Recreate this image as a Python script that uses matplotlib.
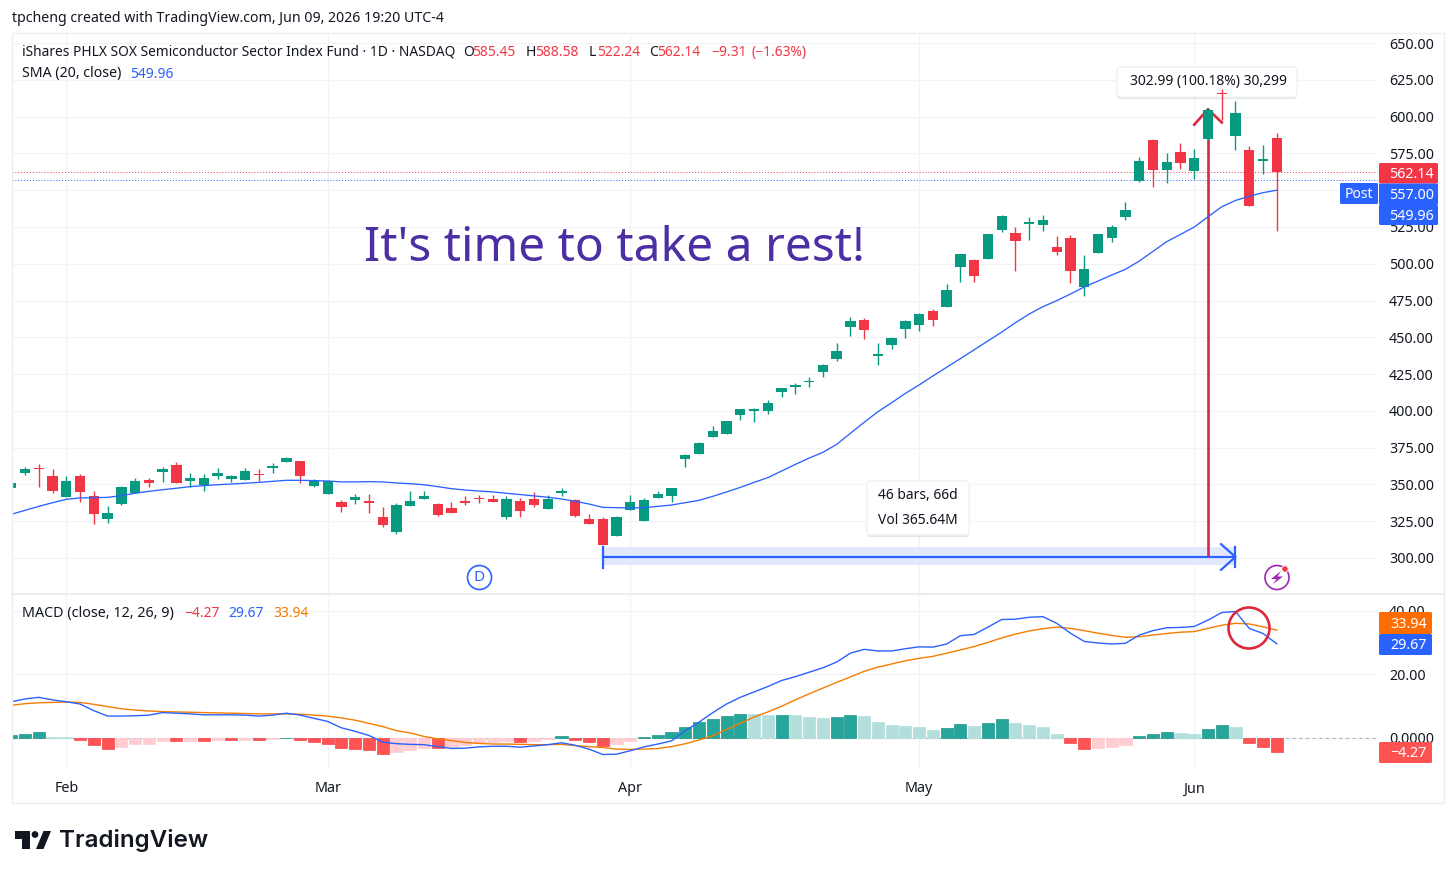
#!/usr/bin/env python3
"""SOXX daily candles with SMA 20 and MACD, TradingView snapshot layout."""

import numpy as np
import matplotlib
matplotlib.use("Agg")
import matplotlib.pyplot as plt
import matplotlib.patheffects as pe
from matplotlib.patches import Rectangle, FancyBboxPatch, Circle, Polygon

plt.rcParams["font.family"] = ["Noto Sans", "DejaVu Sans"]

# ---------- Data ----------
opens = [347.8,
         358.0, 361.2, 355.7, 341.7, 355.7, 342.1, 326.3, 336.9, 344.4, 353.0,
         358.2, 363.0, 352.3, 349.6, 355.5, 353.9, 353.0, 357.3, 361.2, 365.4,
         366.1, 348.9, 343.5, 337.9, 339.6, 338.5, 328.1, 317.9, 335.5, 340.1,
         336.9, 333.8, 338.7, 340.6, 340.3, 328.1, 338.9, 339.9, 333.5, 344.2,
         339.4, 326.3, 326.3, 315.2, 332.8, 324.9, 340.8, 342.1, 367.5, 370.9,
         382.0, 384.1, 397.4, 399.7, 400.1, 413.0, 416.4, 419.6, 426.6, 435.0,
         457.2, 461.5, 437.1, 445.0, 455.4, 458.3, 467.7, 470.8, 497.6, 502.5,
         503.4, 522.9, 520.9, 527.2, 526.1, 511.4, 517.5, 484.2, 507.5, 517.7,
         531.5, 556.4, 584.1, 563.7, 575.9, 563.2, 584.5, 616.2, 586.8, 577.5,
         569.6, 585.45]
highs = [351.0,
         362.0, 363.7, 360.3, 355.7, 356.9, 345.3, 335.3, 348.9, 354.6, 354.6,
         361.6, 365.0, 357.6, 357.1, 361.4, 356.4, 361.4, 360.3, 364.8, 368.4,
         366.1, 353.5, 353.0, 339.2, 343.7, 343.5, 334.9, 337.2, 345.3, 345.3,
         337.6, 338.1, 342.1, 343.0, 342.8, 342.1, 340.6, 344.9, 342.8, 347.6,
         339.8, 329.7, 327.7, 328.6, 342.6, 340.6, 345.7, 347.6, 370.7, 379.0,
         389.7, 393.4, 401.3, 401.7, 407.2, 415.5, 418.9, 423.0, 431.8, 446.3,
         463.6, 462.9, 445.9, 450.0, 461.7, 466.3, 469.0, 486.2, 506.8, 503.2,
         520.5, 533.3, 524.7, 531.5, 533.1, 518.6, 519.7, 505.9, 520.5, 526.3,
         541.9, 572.7, 584.5, 575.4, 582.2, 577.8, 605.8, 618.5, 610.8, 580.2,
         580.9, 588.58]
lows = [347.5,
        356.6, 348.0, 344.0, 341.7, 338.3, 323.3, 324.0, 336.2, 344.0, 348.5,
        351.6, 351.2, 348.5, 345.5, 353.9, 351.9, 353.0, 352.5, 358.0, 365.4,
        350.8, 348.5, 343.5, 331.5, 336.9, 330.8, 321.3, 316.3, 335.5, 340.1,
        328.5, 330.4, 336.2, 337.4, 338.1, 326.7, 327.7, 334.9, 333.5, 342.1,
        328.2, 322.9, 309.0, 315.2, 332.6, 324.9, 340.8, 338.3, 362.0, 370.9,
        382.0, 384.1, 393.6, 392.4, 397.9, 409.2, 411.7, 416.4, 422.8, 433.7,
        450.9, 448.6, 431.4, 442.2, 449.3, 454.5, 457.7, 470.8, 487.8, 487.8,
        503.0, 521.8, 495.2, 516.1, 522.0, 506.1, 486.7, 478.1, 507.0, 514.8,
        529.7, 555.3, 551.9, 554.6, 564.6, 557.4, 584.0, 597.7, 577.3, 539.4,
        561.0, 522.24]
closes = [350.8,
          360.3, 360.3, 345.5, 352.3, 345.1, 330.1, 330.4, 348.0, 352.1, 351.2,
          360.3, 351.2, 354.6, 354.2, 357.6, 355.7, 358.9, 356.2, 361.6, 367.8,
          355.9, 352.3, 352.3, 334.5, 341.3, 337.4, 322.6, 335.8, 338.5, 342.1,
          329.4, 330.8, 337.4, 339.9, 338.1, 339.9, 331.7, 336.0, 340.3, 345.3,
          328.5, 322.9, 309.0, 328.1, 337.9, 339.2, 343.5, 347.6, 370.0, 378.4,
          386.1, 393.1, 401.1, 401.5, 405.3, 415.3, 417.1, 420.3, 431.2, 440.5,
          460.9, 454.9, 438.4, 449.3, 460.9, 465.6, 461.5, 482.1, 506.6, 491.9,
          520.2, 532.4, 515.6, 528.1, 529.5, 507.8, 495.2, 496.4, 520.2, 524.7,
          536.7, 569.8, 563.7, 569.3, 568.6, 571.6, 604.5, 615.3, 602.2, 539.4,
          571.0, 562.14]
sma20 = [329.7, 332.4, 335.1, 337.6, 339.9, 340.8, 341.0, 341.2, 342.4, 344.0,
         345.3, 346.4, 347.4, 348.5, 349.2, 349.8, 350.3, 350.8, 351.4, 352.1,
         352.8, 352.8, 352.6, 352.3, 351.7, 351.7, 351.9, 351.7, 351.0, 350.5,
         349.8, 348.5, 347.1, 346.2, 345.5,
         344.9, 344.0, 343.1, 342.2, 341.3, 340.1, 338.5, 336.7, 334.4, 334.2,
         334.0, 334.2, 335.1, 336.0, 337.6, 339.2, 341.9, 344.9, 348.0, 351.4,
         354.6, 359.1, 363.6, 367.9, 371.8, 377.2, 384.7, 392.2, 399.4, 405.5,
         411.9, 417.6, 423.7, 429.6,
         435.5, 441.5, 447.5, 453.5, 459.9, 465.8, 470.8, 474.9, 479.4, 484.2,
         488.2, 492.3, 496.2, 501.8, 508.4, 515.0, 519.9, 524.9, 531.9, 538.7,
         543.0, 545.8, 548.3, 549.96]
macd_line = [11.4, 12.3, 12.8, 12.0, 11.4, 10.7, 8.6, 6.9, 6.9, 7.0, 7.2, 8.0,
             7.8, 7.6, 7.3, 7.3, 7.3, 7.2, 6.9, 7.2, 7.8, 7.2, 6.2, 5.2, 3.2,
             2.1, 0.8, -1.3, -1.8, -2.0, -2.1, -2.7, -3.3, -3.2, -2.8, -2.6,
             -2.6, -2.9, -2.5, -2.1, -1.5, -2.3, -3.5, -5.2, -5.1, -4.0, -2.8,
             -1.9, -0.9, 2.3, 5.0, 8.0, 10.7, 12.8, 14.5, 16.2, 18.1, 19.3, 20.7,
             22.1, 23.9, 26.7, 27.9, 27.4, 27.4, 28.1, 28.7, 28.6, 29.6, 32.2,
             32.6, 34.9, 37.3, 37.4, 38.0, 38.2, 36.1,
             33.0, 30.4, 29.9, 29.6, 29.8, 32.4, 33.8, 34.7, 34.8, 35.1, 37.1,
             39.5, 39.8, 34.5, 32.9, 29.67]
signal_line = [10.3, 10.8, 11.1, 11.2, 11.3, 11.2, 10.6, 9.9, 9.2, 8.8, 8.5, 8.3,
               8.2, 8.1, 8.0, 7.9, 7.8, 7.7, 7.6, 7.6, 7.6, 7.5, 7.2, 6.9, 6.3,
               5.6, 4.6, 3.6, 2.3, 1.6, 0.5, -0.3, -0.8, -1.4, -1.7, -1.9,
               -1.9, -2.0, -2.1, -2.1, -2.0, -2.4, -2.7, -3.0, -3.5, -3.6, -3.5,
               -3.3, -2.7, -1.8, -0.6, 0.7, 2.7, 4.6, 6.6, 8.2, 10.0, 12.0, 13.9,
               15.7, 17.5, 19.2, 21.0, 22.3, 23.3, 24.3, 25.1, 25.7, 26.7, 27.7,
               28.8, 30.1, 31.5, 32.7, 33.7, 34.4, 34.9,
               34.5, 33.8, 33.0, 32.3, 31.7, 31.9, 32.4, 32.9, 33.3, 33.5, 34.5,
               35.5, 36.1, 35.9, 35.0, 33.94]
macd_hist = [0.8, 1.4, 1.8, 0.3, 0.2, -0.7, -2.2, -3.4, -2.7, -2.0, -1.8, -0.9,
             -1.0, -0.8, -0.9, -0.6, -0.7, -0.6, -0.7, -0.4, 0.1, -0.7, -1.2,
             -1.8, -3.0, -3.6, -3.8, -4.9, -4.3, -3.8, -3.0, -3.1, -2.9, -2.2,
             -1.6, -1.3,
             -1.1, -1.2, -0.8, -0.4, 0.5, -0.6, -1.2, -2.5, -2.0, -0.9, 0.3, 0.95,
             1.8, 3.5, 5.0, 6.1, 7.0, 7.6, 7.5, 7.3, 7.35, 7.1, 6.6,
             6.3, 6.6, 7.3, 6.9, 5.1, 4.2, 3.9, 3.6, 2.6, 3.1, 4.4, 3.9, 4.8, 5.9,
             4.6, 4.2, 3.6, 1.4,
             -1.7, -3.4, -3.1, -2.9, -2.1, 0.7, 1.4, 1.9, 1.6, 1.4, 2.8, 4.2, 3.6,
             -1.7, -2.9, -4.27]

price_ticks = [300, 325, 350, 375, 400, 425, 450, 475, 500, 525, 550, 575, 600, 625, 650]
macd_ticks = [0, 20, 40]
macd_tick_labels = ["0.0000", "20.00", "40.00"]
month_bars = [4, 23, 45, 66, 86]
month_labels = ["Feb", "Mar", "Apr", "May", "Jun"]
last_close = 562.14
post_price = 557.00
range_start = 43
range_end = 89

UP = "#089981"
DOWN = "#f23645"
BLUE = "#2962ff"
ORANGE = "#f57c00"
GRID = "#f2f3f6"
FRAME = "#eceef2"
TEXT = "#131722"
W, H = 1456, 877


def frac_box(left, top, right, bottom):
    return [left / W, 1 - bottom / H, (right - left) / W, (bottom - top) / H]


# ---------- Figure ----------
fig = plt.figure(figsize=(W / 100, H / 100), dpi=100, facecolor="white")
ax = fig.add_axes(frac_box(12, 33, 1378, 594))
ax_macd = fig.add_axes(frac_box(12, 596, 1378, 769))
over = fig.add_axes([0, 0, 1, 1], zorder=10)
over.set_xlim(0, W)
over.set_ylim(H, 0)
over.axis("off")
over.patch.set_alpha(0)

xs = np.arange(len(closes))
xlim = (0.05, 99.36)

for a in (ax, ax_macd):
    a.set_xlim(*xlim)
    for s in a.spines.values():
        s.set_visible(False)
    a.grid(True, color=GRID, lw=0.9)
    a.set_axisbelow(True)
    a.set_xticks(month_bars)
    a.yaxis.tick_right()
    a.tick_params(length=0, labelsize=10.3, labelcolor=TEXT)

# ---------- Price pane ----------
ax.set_ylim(275.53, 656.8)
ax.set_yticks(price_ticks)
ax.set_yticklabels([f"{v:.2f}" for v in price_ticks])
ax.tick_params(axis="y", pad=8)
ax.tick_params(axis="x", labelbottom=False)

ax.axhline(last_close, color=DOWN, lw=0.7, ls=(0, (1, 2)), zorder=1)
ax.axhline(post_price, color=BLUE, lw=0.7, ls=(0, (1, 2)), zorder=1)

# range tool
ax.fill_between([range_start, range_end], 295.2, 307.5, color="#e2e9fd", lw=0, zorder=1.2)
ax.plot([range_start, range_end], [300.7, 300.7], color=BLUE, lw=1.6, zorder=1.4)
ax.plot([range_start, range_start], [293.5, 307.5], color=BLUE, lw=1.6, zorder=1.4)
ax.plot([range_end, range_end], [294, 307.5], color=BLUE, lw=1.6, zorder=1.4)
ax.plot([range_end - 1.05, range_end, range_end - 1.05], [309.4, 300.7, 292],
        color=BLUE, lw=1.6, zorder=1.4)

# measured move arrow
ax.plot([range_start + 44, range_start + 44], [301.8, 604], color="#d9283f", lw=1.9, zorder=1.6)
ax.plot([range_start + 43, range_start + 44, range_start + 45], [594.5, 605, 596],
        color="#d9283f", lw=1.9, zorder=1.6)


def tooltip(left, top, right, bottom):
    # boxes sit under the candles, as the doji pokes over the measure label
    p = FancyBboxPatch((left + 3, top + 3), right - left - 6, bottom - top - 6,
                       boxstyle="round,pad=3,rounding_size=4", fc="white", ec="#eff0f3", lw=0.8,
                       transform=over.transData, zorder=1.8, clip_on=False)
    p.set_path_effects([pe.withSimplePatchShadow(offset=(0, -1.5), alpha=0.10, shadow_rgbFace="k"),
                        pe.Normal()])
    ax.add_patch(p)


tooltip(1117, 67, 1297, 97)
tooltip(867, 481, 969, 535)

colors = [UP if c >= o else DOWN for o, c in zip(opens, closes)]
ax.vlines(xs, lows, highs, colors=colors, lw=1.0, zorder=2)
body_low = np.minimum(opens, closes)
body_h = np.maximum(np.abs(np.array(closes) - np.array(opens)), 1.0)
ax.bar(xs, body_h, bottom=body_low, width=0.75, color=colors, lw=0, zorder=2.5)
ax.plot(xs, sma20, color=BLUE, lw=0.95, zorder=3)

# ---------- MACD pane ----------
ax_macd.set_ylim(-9.76, 44.7)
ax_macd.set_yticks(macd_ticks)
ax_macd.set_yticklabels(macd_tick_labels)
ax_macd.tick_params(axis="y", pad=8)
ax_macd.set_xticklabels(month_labels)
ax_macd.tick_params(axis="x", pad=9)
ax_macd.axhline(0, color="#b2b5be", lw=0.8, ls=(0, (3, 3)), zorder=1)

hist_colors = []
hist_edges = []
prev = 0.0
for v in macd_hist:
    if v >= 0:
        hist_colors.append("#26a69a" if v > prev else "#b2dfdb")
        hist_edges.append("#1f9588" if v > prev else "#b2dfdb")
    else:
        hist_colors.append("#ff5252" if v < prev else "#ffcdd2")
        hist_edges.append("#f4464c" if v < prev else "#ffcdd2")
    prev = v
ax_macd.bar(xs, macd_hist, width=0.88, color=hist_colors, edgecolor=hist_edges, lw=0.5, zorder=2)
ax_macd.plot(xs, signal_line, color=ORANGE, lw=1.0, zorder=3)
ax_macd.plot(xs, macd_line, color=BLUE, lw=1.0, zorder=3.2)

# ---------- Frame ----------
over.add_patch(Rectangle((12, 33), 1432, 770, fill=False, ec=FRAME, lw=1.0))
over.plot([12, 1444], [594, 594], color=FRAME, lw=1.6)


def label(x, y, s, color=TEXT, size=10.0, ha="left", **kw):
    over.text(x, y + 1, s, color=color, fontsize=size, ha=ha, va="center", **kw)


def price_box(left, top, right, bottom, s, face):
    over.add_patch(FancyBboxPatch((left + 1, top + 1), right - left - 2, bottom - top - 2,
                                  boxstyle="round,pad=1,rounding_size=1.5", fc=face, ec="none"))
    label((left + right) / 2 + 3, (top + bottom) / 2, s, color="white", size=10.3, ha="center",
          fontweight="medium")


# ---------- Header and legends ----------
label(12, 18, "tpcheng created with TradingView.com, Jun 09, 2026 19:20 UTC-4", size=10.2)
label(22, 51.5, "iShares PHLX SOX Semiconductor Sector Index Fund · 1D · NASDAQ", size=9.9)
for x, s, col in [(463, "O", TEXT), (472, "585.45", DOWN), (526, "H", TEXT), (535, "588.58", DOWN),
                  (589, "L", TEXT), (597, "522.24", DOWN), (649, "C", TEXT), (657, "562.14", DOWN),
                  (711, "−9.31", DOWN), (751, "(−1.63%)", DOWN)]:
    label(x, 51.5, s, color=col)
label(22, 73, "SMA (20, close)", size=10.2)
label(130, 73, "549.96", color=BLUE)
label(22, 612.5, "MACD (close, 12, 26, 9)", size=10.3)
label(184, 612.5, "−4.27", color=DOWN)
label(228, 612.5, "29.67", color=BLUE)
label(273, 612.5, "33.94", color=ORANGE)

label(364, 247.5, "It's time to take a rest!", color="#4b2fa3", size=34.5)

# ---------- Axis value boxes ----------
price_box(1379, 163, 1438, 183.5, "562.14", DOWN)
price_box(1379, 183.5, 1438, 205, "557.00", BLUE)
price_box(1379, 205, 1438, 225, "549.96", BLUE)
over.add_patch(FancyBboxPatch((1341, 184), 36, 19, boxstyle="round,pad=1,rounding_size=1.5",
                              fc=BLUE, ec="none"))
label(1359, 193.5, "Post", color="white", ha="center")
price_box(1379, 612, 1432, 634, "33.94", "#ff6d00")
price_box(1379, 634, 1432, 655, "29.67", BLUE)
price_box(1379, 742, 1432, 763, "−4.27", "#ff5252")

# ---------- Tooltip text ----------
label(1208, 80.5, "302.99 (100.18%) 30,299", ha="center")
label(878, 494.5, "46 bars, 66d")
label(878, 519.5, "Vol 365.64M")

# ---------- Marks on the chart ----------
over.add_patch(Circle((1249, 628), 20.5, fill=False, ec="#e0283c", lw=1.9))
over.add_patch(Circle((479.5, 577.5), 12, fill=False, ec=BLUE, lw=1.2))
label(479.5, 576.5, "D", color=BLUE, size=11, ha="center")
over.add_patch(Circle((1277, 577.5), 12, fill=False, ec="#9c27b0", lw=1.2))
over.add_patch(Polygon([(1281, 571), (1271, 579), (1276.5, 579), (1273, 584),
                        (1283, 576.5), (1277.5, 576.5)], fc="#9c27b0", ec="none"))
over.add_patch(Circle((1285, 569), 3.2, fc=DOWN, ec="white", lw=0.6))

# ---------- Logo ----------
over.add_patch(Polygon([(15, 831), (29.5, 831), (29.5, 849), (22, 849), (22, 838.5), (15, 838.5)],
                       fc=TEXT, ec="none"))
over.add_patch(Circle((35, 834.5), 3.4, fc=TEXT, ec="none"))
over.add_patch(Polygon([(43.5, 831), (51, 831), (43.5, 849), (36, 849)], fc=TEXT, ec="none"))
over.text(59, 840, "TradingView", color=TEXT, fontsize=17.4, fontweight="semibold",
          family="Inter", ha="left", va="center")

fig.savefig("out.png", dpi=100)
